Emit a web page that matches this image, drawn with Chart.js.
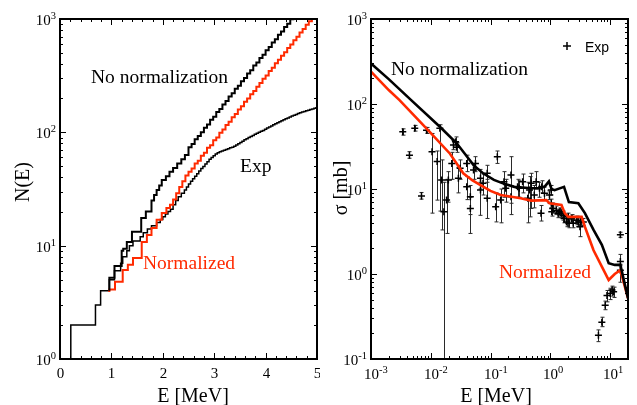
<!DOCTYPE html>
<html>
<head>
<meta charset="utf-8">
<script src="https://cdn.jsdelivr.net/npm/chart.js@4.4.0/dist/chart.umd.min.js"></script>
<style>
  html, body { margin: 0; padding: 0; background: #fff; }
  #wrap { position: relative; width: 637px; height: 405px; }
  canvas { position: absolute; top: 0; }
  #levelChart { left: 0; }
  #xsChart { left: 320px; }
</style>
</head>
<body>
<div id="wrap">
  <canvas id="levelChart" width="320" height="405"></canvas>
  <canvas id="xsChart" width="317" height="405"></canvas>
</div>
<script>
// ---- left panel: cumulative number of levels N(E) ----
const expLevelE = [0, 0.21, 0.69, 0.79, 0.96, 1.06, 1.18, 1.22, 1.30, 1.35, 1.42, 1.56, 1.62, 1.70, 1.78, 1.88, 1.95, 2.00, 2.05, 2.10,
  2.15, 2.20, 2.25, 2.30, 2.36, 2.42,
  2.46, 2.50, 2.54, 2.58, 2.62, 2.66, 2.70, 2.74, 2.78, 2.82, 2.86, 2.90, 2.94, 2.98, 3.02, 3.06, 3.10, 3.14, 3.18, 3.22,
  3.26, 3.30, 3.34, 3.38, 3.42, 3.46, 3.50, 3.54, 3.58, 3.62, 3.66, 3.70, 3.74, 3.78, 3.82, 3.86, 3.90, 3.94, 3.98, 4.02,
  4.06, 4.10, 4.14, 4.18, 4.22, 4.26, 4.30, 4.34, 4.38, 4.42, 4.46, 4.50, 4.54, 4.58, 4.62, 4.66, 4.70, 4.74, 4.78, 4.82,
  4.86, 4.90, 4.94, 4.98, 5.00]
const expLevelN = [1, 2, 3, 4, 5, 6, 7, 8, 9, 10, 11, 12, 13, 14, 15, 16, 17, 18, 19, 20,
  21, 23, 25, 27, 29, 31,
  33, 35, 37, 39, 41, 43, 45.5, 48, 50, 52.5, 55, 58, 60, 62, 64.5, 66, 67.5, 68.5, 69.5, 70.5,
  71.5, 73, 74, 75.5, 77.5, 79.5, 81.5, 83.5, 86, 88, 90, 92, 94, 96, 98, 100, 102, 104, 106.5, 109,
  111.5, 114, 116.5, 119, 121.5, 124, 126.5, 129, 131.5, 134, 136.5, 139, 141.5, 144, 146.5, 149, 151, 153, 155, 157,
  159, 161, 163, 165, 166]

const noNormE = [0.96, 0.96, 1.06, 1.20, 1.23, 1.30, 1.40, 1.58, 1.67, 1.78, 1.83, 1.88, 1.93, 1.98, 2.06, 2.13, 2.20, 2.28, 2.36, 2.43,
  2.50, 2.56, 2.62, 2.68, 2.74, 2.80, 2.86, 2.92, 2.98, 3.04, 3.10, 3.16, 3.22, 3.28, 3.34, 3.40, 3.46, 3.52, 3.58, 3.64,
  3.70, 3.76, 3.82, 3.88, 3.94, 4.00, 4.06, 4.12, 4.18, 4.24, 4.30, 4.36, 4.42, 4.48, 4.54]
const noNormN = [4, 5.2, 6.6, 9, 9.4, 10.8, 13.3, 17.5, 20, 25, 28, 31, 34, 38, 41, 45, 48.5, 53, 58, 63,
  74, 79, 87, 93, 100, 110, 117, 129, 137, 151, 161, 176, 189, 207, 221, 242, 258, 283, 302, 331,
  353, 388, 414, 452, 484, 530, 566, 621, 663, 727, 776, 851, 908, 995, 1075]

const normE = [0.96, 0.96, 1.07, 1.22, 1.32, 1.42, 1.59, 1.69, 1.78, 1.88, 1.98, 2.07, 2.14, 2.20, 2.26, 2.32, 2.38, 2.44, 2.50, 2.56,
  2.62, 2.68, 2.74, 2.80, 2.86, 2.92, 2.98, 3.04, 3.10, 3.16, 3.22, 3.28, 3.34, 3.40, 3.46, 3.52, 3.58, 3.64, 3.70, 3.76,
  3.82, 3.88, 3.94, 4.00, 4.06, 4.12, 4.18, 4.24, 4.30, 4.36, 4.42, 4.48, 4.54, 4.60, 4.66, 4.72, 4.78, 4.84, 4.90]
const normN = [3.9, 4.1, 4.8, 6.1, 6.8, 7.8, 10.8, 12.4, 14.3, 16.9, 19.4, 21.5, 23, 25.5, 29, 33, 37, 41.5, 45, 48,
  53, 56, 62, 66, 73, 77, 85, 90, 99, 106, 116, 124, 136, 145, 159, 170, 186, 199, 217, 232,
  253, 272, 297, 318, 347, 372, 407, 436, 475, 510, 556, 597, 650, 698, 760, 818, 890, 955, 1040]

// ---- right panel: cross section sigma(E) ----
const noNormXsE = [0.001, 0.002, 0.0047, 0.0142, 0.0272, 0.038, 0.052, 0.075, 0.114, 0.17, 0.25, 0.48, 0.7, 0.82, 0.95,
  1.05, 1.18, 1.7, 2.05, 2.95, 3.8, 5.3, 7.3, 9.5, 12, 14.9, 20]
const noNormXs = [300, 195, 111, 54, 34.5, 25.5, 19.1, 15.3, 12.8, 11.5, 10.6, 10.2, 10.2, 10.8, 12.3,
  10.0, 9.7, 10.6, 7.0, 6.8, 5.2, 3.3, 2.2, 1.34, 1.28, 1.28, 0.52]

const normXsE = [0.001, 0.002, 0.003, 0.0096, 0.021, 0.035, 0.05, 0.068, 0.1, 0.148, 0.32, 0.48, 0.86, 0.97, 1.54, 1.75,
  2.0, 2.76, 3.35, 3.8, 5.3, 7.3, 9.5, 12, 14.9, 20]
const normXs = [240, 145, 111, 47, 26, 15.3, 12.6, 11.1, 9.5, 8.5, 7.8, 7.3, 7.4, 6.8, 6.5, 5.2,
  4.7, 4.7, 4.7, 3.6, 1.9, 1.22, 0.85, 1.0, 1.11, 0.52]

const expXsE = [0.0034, 0.0044, 0.0054, 0.0070, 0.0085, 0.0105, 0.0128, 0.0142, 0.0152, 0.0166,
  0.0184, 0.0197, 0.0225, 0.024, 0.026, 0.027, 0.029, 0.031, 0.040, 0.040,
  0.046, 0.046, 0.052, 0.056, 0.068, 0.068, 0.075, 0.088, 0.088, 0.122,
  0.13, 0.148, 0.168, 0.18, 0.22, 0.22, 0.284, 0.302, 0.345, 0.42,
  0.45, 0.48, 0.54, 0.58, 0.66, 0.72, 0.70, 0.80, 0.97, 1.04,
  1.04, 1.06, 1.10, 1.26, 1.35, 1.44, 1.54, 1.64, 1.70, 1.87,
  2.00, 2.05, 2.27, 2.42, 2.76, 2.95, 3.14, 3.25, 3.58, 6.4,
  7.3, 8.3, 8.9, 10.1, 10.8, 11.5, 14.9, 14.9, 14.9]
const expXs = [47, 25, 52, 8.3, 49, 27.5, 21, 52, 12.8, 5.4,
  7.4, 12.8, 20, 33, 36, 31, 13.4, 17.5, 20, 10.6,
  8.1, 5.9, 16.7, 20, 13.4, 9.7, 11.7, 15.3, 7.8, 6.2,
  24, 7.4, 12.2, 10.2, 14.6, 8.1, 10.6, 10.2, 12.2, 7.8,
  9.7, 11.7, 8.5, 12.2, 10.2, 10.6, 5.2, 8.9, 8.5, 9.7,
  6.8, 5.4, 5.9, 5.6, 5.2, 5.4, 5.2, 4.9, 4.5, 4.1,
  4.7, 3.95, 4.5, 3.95, 4.3, 4.1, 3.6, 4.1, 4.1, 0.19,
  0.27, 0.43, 0.56, 0.59, 0.65, 0.62, 2.9, 1.4, 1.11]
const expXsLo = [43, 23, 48, 7.6, 45, 5.2, 7.4, 5.5, 3.3, 0.05,
  3.0, 7.0, 13, 29, 31, 27, 9, 13, 16, 7.5,
  5, 3.0, 13, 16, 10, 4.9, 8.5, 12, 4.5, 4.1,
  20, 4, 8, 7, 6.8, 5, 8, 8, 9, 4,
  4.7, 5.9, 6, 10, 8, 9, 4.2, 7.5, 7.5, 8.5,
  6, 4.8, 5.2, 5, 4.6, 4.8, 4.6, 4.3, 4, 3.6,
  4.2, 3.5, 4, 3.5, 3.8, 3.6, 2.75, 3.7, 3.7, 0.16,
  0.24, 0.38, 0.47, 0.5, 0.55, 0.53, 2.7, 1.25, 0.8]
const expXsHi = [51, 27.5, 56, 9.1, 53, 45, 28, 57, 22, 12,
  13, 16, 27, 37, 41, 35, 18, 22, 25, 14,
  11, 8, 20, 24, 17, 12, 15, 19, 13, 9,
  28, 10, 16, 13, 24, 11, 13, 12.5, 15, 12,
  14, 15.3, 11, 16, 12, 12.5, 6.4, 10.5, 9.5, 11,
  7.6, 6, 6.6, 6.3, 5.8, 6, 5.8, 5.5, 5, 4.6,
  5.2, 4.4, 5, 4.4, 4.8, 4.6, 4.7, 4.5, 4.5, 0.22,
  0.31, 0.48, 0.64, 0.68, 0.72, 0.70, 3.1, 1.7, 1.3]

const SERIF = '"Liberation Serif", "Times New Roman", serif'
const SANS = '"Liberation Sans", Arial, sans-serif'
const RED = '#ff2a00'

function toPoints(xs, ys) {
  return xs.map((x, i) => ({ x: x, y: ys[i] }))
}

function logTicks(min, max) {
  const ticks = []
  for (let k = Math.floor(Math.log10(min)); k <= Math.ceil(Math.log10(max)); k++) {
    for (let m = 1; m <= 9; m++) {
      const v = m * Math.pow(10, k)
      if (v >= min * 0.999 && v <= max * 1.001) ticks.push({ v: v, major: m === 1, exp: k })
    }
  }
  return ticks
}

function line(ctx, x1, y1, x2, y2) {
  ctx.beginPath()
  ctx.moveTo(x1, y1)
  ctx.lineTo(x2, y2)
  ctx.stroke()
}

// "10" with a raised exponent; the "10" is placed at x (right edge or centre)
function drawPow(ctx, exp, x, y, align) {
  ctx.textAlign = 'left'
  ctx.textBaseline = 'alphabetic'
  ctx.font = '15px ' + SERIF
  const wb = ctx.measureText('10').width
  ctx.font = '10.5px ' + SERIF
  const sup = String(exp)
  const ws = ctx.measureText(sup).width
  const x0 = align === 'right' ? x - wb - ws : x - wb / 2
  ctx.font = '15px ' + SERIF
  ctx.fillText('10', x0, y)
  ctx.font = '10.5px ' + SERIF
  ctx.fillText(sup, x0 + wb, y - 6)
}

// frame with inward ticks on all four sides, tick labels, titles and notes
const framePlugin = {
  id: 'frame',
  afterDraw(chart, args, opts) {
    const ctx = chart.ctx
    const a = chart.chartArea
    const xs = chart.scales.x
    const ys = chart.scales.y
    ctx.save()
    ctx.strokeStyle = '#000'
    ctx.fillStyle = '#000'
    ctx.lineWidth = 1
    opts.xTicks.forEach(t => {
      const px = Math.round(xs.getPixelForValue(t.v)) + 0.5
      const len = t.major ? 6 : 3
      line(ctx, px, a.bottom, px, a.bottom - len)
      line(ctx, px, a.top, px, a.top + len)
      if (t.major) {
        if (opts.xLog) {
          drawPow(ctx, t.exp, px, a.bottom + 20, 'center')
        } else {
          ctx.font = '15px ' + SERIF
          ctx.textAlign = 'center'
          ctx.textBaseline = 'alphabetic'
          ctx.fillText(t.label, px, a.bottom + 19)
        }
      }
    })
    opts.yTicks.forEach(t => {
      const py = Math.round(ys.getPixelForValue(t.v)) + 0.5
      const len = t.major ? 6 : 3
      line(ctx, a.left, py, a.left + len, py)
      line(ctx, a.right, py, a.right - len, py)
      if (t.major) drawPow(ctx, t.exp, a.left - 4, py + 5, 'right')
    })
    ctx.lineWidth = 2
    ctx.strokeRect(a.left, a.top, a.right - a.left, a.bottom - a.top)

    // axis titles
    ctx.font = '20px ' + SERIF
    ctx.textAlign = 'center'
    ctx.textBaseline = 'alphabetic'
    ctx.fillText(opts.xTitle, a.left + opts.xTitleDx, a.bottom + 43)
    ctx.save()
    ctx.translate(opts.yTitleX, opts.yTitleY)
    ctx.rotate(-Math.PI / 2)
    ctx.fillText(opts.yTitle, 0, 0)
    ctx.restore()

    // text notes inside the frame
    opts.notes.forEach(n => {
      ctx.font = n.font
      ctx.fillStyle = n.color
      ctx.textAlign = 'left'
      ctx.fillText(n.text, a.left + n.dx, a.top + n.dy)
    })
    if (opts.legendMark) {
      const m = opts.legendMark
      ctx.strokeStyle = '#000'
      ctx.lineWidth = 1.5
      line(ctx, a.left + m.dx - 4, a.top + m.dy, a.left + m.dx + 4, a.top + m.dy)
      line(ctx, a.left + m.dx, a.top + m.dy - 4, a.left + m.dx, a.top + m.dy + 4)
    }
    ctx.restore()
  }
}

// vertical error bars of the experimental points
const errorBarPlugin = {
  id: 'errorBars',
  beforeDatasetsDraw(chart) {
    const ctx = chart.ctx
    const a = chart.chartArea
    const xs = chart.scales.x
    const ys = chart.scales.y
    ctx.save()
    ctx.beginPath()
    ctx.rect(a.left, a.top, a.right - a.left, a.bottom - a.top)
    ctx.clip()
    ctx.strokeStyle = '#2a2a2a'
    ctx.lineWidth = 1
    expXsE.forEach((e, i) => {
      const px = Math.round(xs.getPixelForValue(e)) + 0.5
      const yLo = ys.getPixelForValue(expXsLo[i])
      const yHi = ys.getPixelForValue(expXsHi[i])
      line(ctx, px, yLo, px, yHi)
      line(ctx, px - 2, yLo, px + 2, yLo)
      line(ctx, px - 2, yHi, px + 2, yHi)
    })
    ctx.restore()
  }
}

const linXTicks = []
for (let i = 0; i <= 25; i++) {
  linXTicks.push({ v: i * 0.2, major: i % 5 === 0, label: String(i / 5) })
}

const noteFont = '19.5px ' + SERIF

new Chart(document.getElementById('levelChart'), {
  type: 'line',
  data: {
    datasets: [
      {
        label: 'No normalization',
        data: toPoints(noNormE, noNormN),
        borderColor: '#000',
        borderWidth: 2,
        stepped: true,
        pointRadius: 0
      },
      {
        label: 'Normalized',
        data: toPoints(normE, normN),
        borderColor: RED,
        borderWidth: 2,
        stepped: true,
        pointRadius: 0
      },
      {
        label: 'Exp',
        data: toPoints(expLevelE, expLevelN),
        borderColor: '#000',
        borderWidth: 1.5,
        stepped: true,
        pointRadius: 0
      }
    ]
  },
  options: {
    responsive: false,
    animation: false,
    events: [],
    layout: { padding: { left: 60, right: 3, top: 19, bottom: 46 } },
    scales: {
      x: { type: 'linear', min: 0, max: 5, display: false },
      y: { type: 'logarithmic', min: 1, max: 1000, display: false }
    },
    plugins: {
      legend: { display: false },
      tooltip: { enabled: false },
      frame: {
        xTicks: linXTicks,
        xLog: false,
        yTicks: logTicks(1, 1000),
        xTitle: 'E [MeV]',
        xTitleDx: 133,
        yTitle: 'N(E)',
        yTitleX: 29,
        yTitleY: 182,
        notes: [
          { text: 'No normalization', dx: 31, dy: 64, font: noteFont, color: '#000' },
          { text: 'Exp', dx: 180, dy: 153, font: noteFont, color: '#000' },
          { text: 'Normalized', dx: 83, dy: 250, font: noteFont, color: RED }
        ]
      }
    }
  },
  plugins: [framePlugin]
})

new Chart(document.getElementById('xsChart'), {
  type: 'line',
  data: {
    datasets: [
      {
        label: 'No normalization',
        data: toPoints(noNormXsE, noNormXs),
        borderColor: '#000',
        borderWidth: 2.6,
        tension: 0,
        pointRadius: 0
      },
      {
        label: 'Normalized',
        data: toPoints(normXsE, normXs),
        borderColor: RED,
        borderWidth: 2.6,
        tension: 0,
        pointRadius: 0
      },
      {
        label: 'Exp',
        data: toPoints(expXsE, expXs),
        showLine: false,
        pointStyle: 'cross',
        pointRadius: 3.5,
        pointBorderWidth: 1.5,
        borderColor: '#000',
        backgroundColor: '#000'
      }
    ]
  },
  options: {
    responsive: false,
    animation: false,
    events: [],
    layout: { padding: { left: 51, right: 9, top: 19, bottom: 46 } },
    scales: {
      x: { type: 'logarithmic', min: 0.001, max: 20, display: false },
      y: { type: 'logarithmic', min: 0.1, max: 1000, display: false }
    },
    plugins: {
      legend: { display: false },
      tooltip: { enabled: false },
      frame: {
        xTicks: logTicks(0.001, 20),
        xLog: true,
        yTicks: logTicks(0.1, 1000),
        xTitle: 'E [MeV]',
        xTitleDx: 125,
        yTitle: '\u03c3 [mb]',
        yTitleX: 27,
        yTitleY: 188,
        notes: [
          { text: 'No normalization', dx: 20, dy: 56, font: noteFont, color: '#000' },
          { text: 'Normalized', dx: 128, dy: 259, font: noteFont, color: RED },
          { text: 'Exp', dx: 214, dy: 33, font: '14px ' + SANS, color: '#000' }
        ],
        legendMark: { dx: 196, dy: 27 }
      }
    }
  },
  plugins: [errorBarPlugin, framePlugin]
})
</script>
</body>
</html>
